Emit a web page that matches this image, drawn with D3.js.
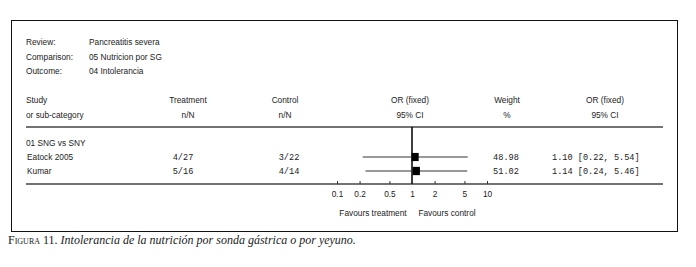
<!DOCTYPE html>
<html><head><meta charset="utf-8">
<script src="https://cdn.jsdelivr.net/npm/d3@7"></script>
<style>
body{margin:0;background:#fff;}
svg text{fill:#222;}
.sans{font-family:"Liberation Sans Narrow","Arial Narrow","Liberation Sans",Arial,sans-serif;font-size:8.3px;}
.mono{font-family:"Liberation Mono","Courier New",monospace;font-size:8.6px;}
</style></head><body>
<svg id="c" width="696" height="267"></svg>
<script>
const infoLabels = ["Review:", "Comparison:", "Outcome:"];
const infoValues = ["Pancreatitis severa", "05 Nutricion por SG", "04 Intolerancia"];
const subgroup = "01 SNG vs SNY";
const studies = ["Eatock 2005", "Kumar"];
const treatment = ["4/27", "5/16"];
const control = ["3/22", "4/14"];
const orValues = [1.10, 1.14];
const ciLow = [0.22, 0.24];
const ciHigh = [5.54, 5.46];
const weights = [48.98, 51.02];
const ticks = [0.1, 0.2, 0.5, 1, 2, 5, 10];
const ticksLabels = ["0.1", "0.2", "0.5", "1", "2", "5", "10"];

const svg = d3.select("#c");
svg.append("rect").attr("x",11.5).attr("y",20.5).attr("width",666).attr("height",211)
  .attr("fill","none").attr("stroke","#111").attr("stroke-width",1);

const x = d3.scaleLog().domain([0.1,10]).range([337,487]);

infoLabels.forEach((t,i)=>{
  svg.append("text").attr("class","sans").attr("x",26).attr("y",45+i*14.5).text(t);
  svg.append("text").attr("class","sans").attr("x",89).attr("y",45+i*14.5).text(infoValues[i]);
});
const hdr = [
  [26,"start","Study","or sub-category"],
  [188,"middle","Treatment","n/N"],
  [285,"middle","Control","n/N"],
  [410,"middle","OR (fixed)","95% CI"],
  [507,"middle","Weight","%"],
  [605,"middle","OR (fixed)","95% CI"]
];
hdr.forEach(h=>{
  svg.append("text").attr("class","sans").attr("x",h[0]).attr("y",103).attr("text-anchor",h[1]).text(h[2]);
  svg.append("text").attr("class","sans").attr("x",h[0]).attr("y",118).attr("text-anchor",h[1]).text(h[3]);
});
svg.append("line").attr("x1",26).attr("x2",663).attr("y1",127).attr("y2",127).attr("stroke","#444").attr("stroke-width",1.5);
svg.append("line").attr("x1",26).attr("x2",663).attr("y1",184).attr("y2",184).attr("stroke","#444").attr("stroke-width",1.5);

svg.append("text").attr("class","sans").attr("x",26).attr("y",146).text(subgroup);

const rowY = [157, 171];
svg.append("line").attr("x1",x(1)).attr("x2",x(1)).attr("y1",127).attr("y2",184).attr("stroke","#000").attr("stroke-width",1.5);

studies.forEach((s,i)=>{
  const y = rowY[i];
  svg.append("text").attr("class","sans").attr("x",27).attr("y",y+3).text(s);
  svg.append("text").attr("class","mono").attr("x",183).attr("y",y+3).attr("text-anchor","middle").text(treatment[i]);
  svg.append("text").attr("class","mono").attr("x",289).attr("y",y+3).attr("text-anchor","middle").text(control[i]);
  svg.append("line").attr("x1",x(ciLow[i])).attr("x2",x(ciHigh[i])).attr("y1",y).attr("y2",y).attr("stroke","#333").attr("stroke-width",1);
  const side = 1.02*Math.sqrt(weights[i]);
  svg.append("rect").attr("x",x(orValues[i])-side/2).attr("y",y-side/2-0.5).attr("width",side).attr("height",side+1).attr("fill","#000");
  svg.append("text").attr("class","mono").attr("x",506).attr("y",y+3).attr("text-anchor","middle").text(weights[i].toFixed(2));
  svg.append("text").attr("class","mono").attr("x",552).attr("y",y+3)
    .text(orValues[i].toFixed(2)+" ["+ciLow[i].toFixed(2)+", "+ciHigh[i].toFixed(2)+"]");
});

const axis = d3.axisBottom(x).tickValues(ticks).tickFormat((d,i)=>ticksLabels[i]).tickSize(-3).tickPadding(7);
const g = svg.append("g").attr("transform","translate(0,184)").call(axis);
g.select(".domain").remove();
g.selectAll(".tick line").attr("stroke","#333");
g.selectAll(".tick text").attr("fill","#222")
  .style("font-family",'"Liberation Sans Narrow","Arial Narrow","Liberation Sans",Arial,sans-serif').style("font-size","8.3px");

svg.append("text").attr("class","sans").attr("x",373).attr("y",216).attr("text-anchor","middle").text("Favours treatment");
svg.append("text").attr("class","sans").attr("x",447).attr("y",216).attr("text-anchor","middle").text("Favours control");

const cap = svg.append("text").attr("x",8).attr("y",244)
  .style("font-family",'"Liberation Serif","DejaVu Serif",serif').style("font-size","12px");
cap.append("tspan").style("font-variant","small-caps").text("Figura 11");
cap.append("tspan").text(". ");
cap.append("tspan").style("font-style","italic").text("Intolerancia de la nutrición por sonda gástrica o por yeyuno.");
</script>
</body></html>
